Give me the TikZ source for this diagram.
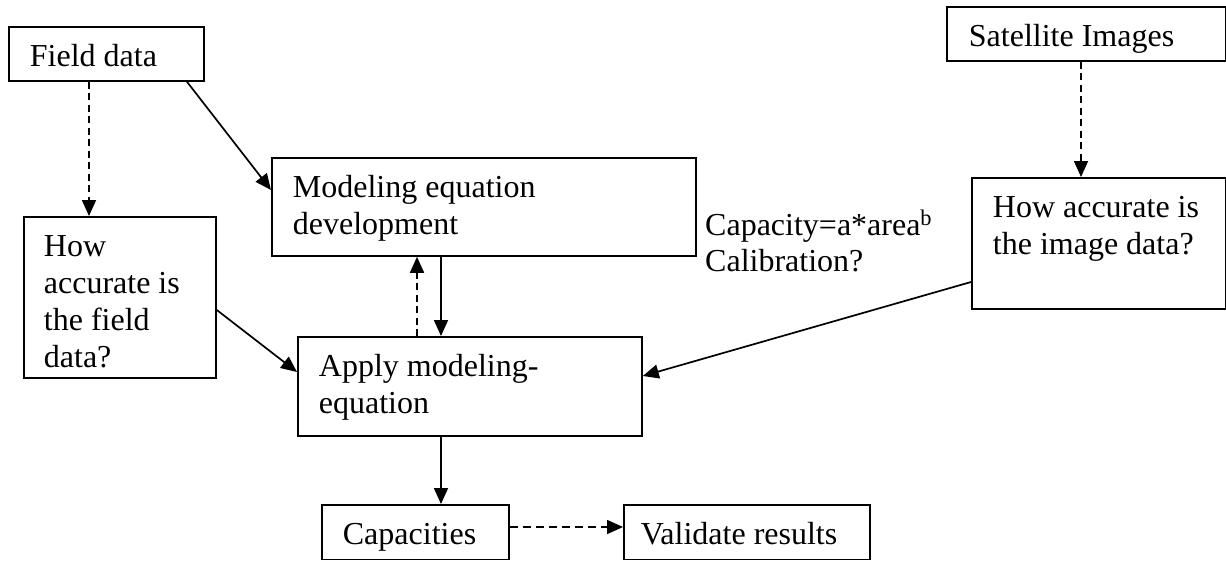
\documentclass[tikz,border=0pt]{standalone}
\usepackage{fontspec}
\setmainfont{Liberation Serif}
\usetikzlibrary{arrows.meta}
\newcommand{\bxt}[3]{\parbox[c][#2pt][t]{#1pt}{\raggedright\rule{0pt}{40pt}#3}}
\begin{document}
\begin{tikzpicture}[x=1pt,y=-1pt,
  font=\fontsize{32}{36.8}\selectfont,
  box/.style={draw, line width=1.8pt, anchor=north west, inner ysep=0pt, inner xsep=#1},
  box/.default=21pt,
  conn/.style={line width=1.7pt, -{Triangle[length=16pt,width=14pt]}},
  dconn/.style={conn, dash pattern=on 7pt off 4.5pt}]
\useasboundingbox (0,0) rectangle (1226,560);
% boxes
\node[box] (fd)  at (8,26)    {\bxt{153}{54}{Field data}};
\node[box] (md)  at (271,157) {\bxt{382}{98}{Modeling equation\\development}};
\node[box=20pt] (hf)  at (23,216)  {\bxt{152}{161}{How\\accurate is\\the field\\data?}};
\node[box] (ap)  at (297,336) {\bxt{302}{99}{Apply modeling-\\equation}};
\node[box=22pt] (sat) at (946,6)   {\bxt{234.5}{54}{Satellite Images}};
\node[box] (img) at (971,177) {\bxt{211.5}{131}{How accurate is\\the image data?}};
\node[box] (cap) at (321,504) {\bxt{145}{54.5}{Capacities}};
\node[box=17pt] (val) at (623,504) {\bxt{212}{54.5}{Validate results}};
% free text
\node[inner sep=0pt, anchor=base west] (eq) at (705,235)
  {\parbox[t]{260pt}{\raggedright Capacity=a*area\textsuperscript{b}\\Calibration?}};
% connectors
\draw[dconn] ([xshift=81pt]fd.south west) -- ([xshift=66pt]hf.north west);
\draw[conn]  ([xshift=179pt]fd.south west) -- ([yshift=-33pt]md.north west);
\draw[dconn] ([xshift=120pt]ap.north west) -- ([xshift=146pt]md.south west);
\draw[conn]  ([xshift=170pt]md.south west) -- ([xshift=144pt]ap.north west);
\draw[conn]  ([yshift=-94pt]hf.north east) -- ([yshift=-36pt]ap.north west);
\draw[dconn] ([xshift=135pt]sat.south west) -- ([xshift=110pt]img.north west);
\draw[conn]  ([yshift=-105pt]img.north west) -- ([yshift=-40pt]ap.north east);
\draw[conn]  ([xshift=144pt]ap.south west) -- ([xshift=120pt]cap.north west);
\draw[conn, dash pattern=on 8pt off 5pt] ([yshift=-23pt]cap.north east) -- ([yshift=-23pt]val.north west);
\end{tikzpicture}
\end{document}
